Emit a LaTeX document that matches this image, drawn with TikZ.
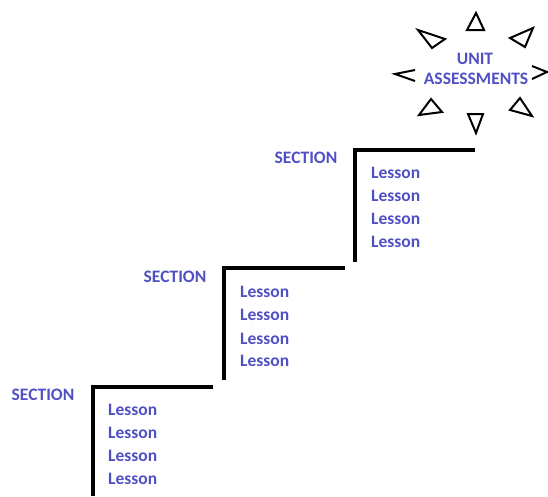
\documentclass[tikz,border=0pt]{standalone}
\usepackage{fontspec}
\setmainfont{Carlito}
\definecolor{txtblue}{RGB}{80,80,196}
\begin{document}
\begin{tikzpicture}[x=1pt,y=-1pt,
  lbl/.style={text=txtblue,font=\fontsize{17.5}{20}\selectfont\bfseries,inner sep=0pt},
  lesson/.style={lbl,anchor=west},
  stair/.style={draw=black,line width=3.2pt},
  tri/.style={draw=black,line width=2pt,line join=miter}]
\useasboundingbox (0,0) rectangle (548,496);
% stairs
\coordinate (b1) at (93,496); \coordinate (c1) at (93,387); \coordinate (e1) at (213,387);
\coordinate (b2) at (224,380); \coordinate (c2) at (224,268); \coordinate (e2) at (345,268);
\coordinate (b3) at (355,262); \coordinate (c3) at (355,150); \coordinate (e3) at (475,150);
\draw[stair] (b1) -- (c1) -- (e1);
\draw[stair] (b2) -- (c2) -- (e2);
\draw[stair] (b3) -- (c3) -- (e3);
% sections
\node[lbl] (s1) at (43,395) {SECTION};
\node[lbl] (s2) at (175,277) {SECTION};
\node[lbl] (s3) at (306,158) {SECTION};
% lessons
\foreach \i/\y in {1/410,2/433,3/456,4/479} \node[lesson] (l1\i) at (108,\y) {Lesson};
\foreach \i/\y in {1/292,2/315,3/339,4/361} \node[lesson] (l2\i) at (240,\y) {Lesson};
\foreach \i/\y in {1/173,2/196,3/219,4/242} \node[lesson] (l3\i) at (371,\y) {Lesson};
% unit assessments
\node[lbl] (unit) at (475,59) {UNIT};
\node[lbl] (assess) at (476,78.5) {ASSESSMENTS};
% triangles
\draw[tri] (476,13) -- (467,30) -- (484,30) -- cycle;
\draw[tri] (468,114) -- (483,114) -- (476,133) -- cycle;
\draw[tri] (418,30) -- (445,39) -- (432,48) -- cycle;
\draw[tri] (533,28) -- (510,38) -- (525,47) -- cycle;
\draw[tri] (431,99) -- (442,112) -- (419,115) -- cycle;
\draw[tri] (520,98) -- (532,116) -- (510,110) -- cycle;
\draw[tri] (415,70) -- (395,74) -- (415,81);
\draw[tri] (532,66) -- (547,72) -- (532,79);
\end{tikzpicture}
\end{document}
